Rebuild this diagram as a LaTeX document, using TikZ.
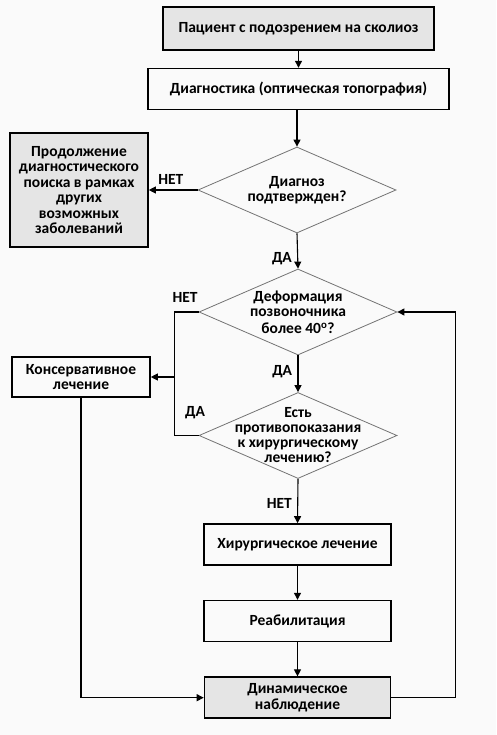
\documentclass[tikz,border=0pt]{standalone}
\usepackage{fontspec}
\setmainfont{Carlito}
\usepackage{tikz}
\usetikzlibrary{arrows.meta, positioning, calc, shapes.geometric}

\begin{document}
\begin{tikzpicture}[
  x=1pt, y=-1pt,
  node distance=17pt and 50pt,
  box/.style={draw, line width=1.6pt, minimum height=41pt, align=center, font=\bfseries\fontsize{15.5}{15.5}\selectfont, inner sep=2pt},
  shaded/.style={box, fill=black!10},
  decision/.style={diamond, draw=black!55, line width=0.8pt, inner sep=0pt, minimum width=198pt, minimum height=86pt},
  qtext/.style={align=center, font=\bfseries\fontsize{15.5}{15}\selectfont},
  lbl/.style={font=\bfseries\fontsize{15.5}{15}\selectfont},
  arr/.style={-{Triangle[length=7pt, width=7pt]}, line width=1.1pt}
]
\useasboundingbox[fill=black!2] (0,0) rectangle (496,735);

% main column
\node[shaded, minimum width=271pt, minimum height=43pt] (patient) at (298.5,28.5) {Пациент с подозрением на сколиоз};
\node[box, minimum width=301pt, below=17pt of patient] (diag) {Диагностика (оптическая топография)};
\node[decision, label={[qtext]center:Диагноз\\подтвержден?}] (confirm) at (297,190) {};
\node[decision, label={[qtext]center:Деформация\\позвоночника\\[2pt]более 40\textsuperscript{o}?}] (deform) at (298,312) {};
\node[decision, label={[qtext]center:Есть\\противопоказания\\к хирургическому\\лечению?}] (contra) at (298,435.5) {};
\node[box, minimum width=187pt] (surgery) at (297.5,544.5) {Хирургическое лечение};
\node[box, minimum width=187pt, below=34pt of surgery] (rehab) {Реабилитация};
\node[shaded, minimum width=186pt, below=34pt of rehab] (follow) {Динамическое\\наблюдение};

% side boxes
\node[shaded, minimum width=138pt, minimum height=114pt] (search) at (79,190) {Продолжение\\диагностического\\поиска в рамках\\других\\возможных\\заболеваний};
\node[box, minimum width=138pt, minimum height=40pt] (conserv) at (81,377) {Консервативное\\лечение};
\coordinate (join) at ($(conserv.east)+(24,0)$);

% connectors
\draw[arr] (patient) -- (diag);
\draw[arr] (diag.south -| confirm.north) -- (confirm.north);
\draw[arr] (confirm.west) -- (search.east)
  node[lbl, pos=0.55, above=2pt]{НЕТ};
\draw[arr] (confirm.south) -- (deform.north)
  node[lbl, pos=0.72, left=2pt]{ДА};
\draw[arr] (deform.south) -- (contra.north)
  node[lbl, pos=0.45, left=2pt]{ДА};
\draw[arr] (contra.south) -- (surgery.north)
  node[lbl, pos=0.55, left=2pt]{НЕТ};
\draw[arr] (surgery) -- (rehab);
\draw[arr] (rehab) -- (follow);
\draw[line width=1.1pt] (deform.west) -| (join);
\draw[line width=1.1pt] (contra.west) -| (join);
\draw[arr] (join) -- (conserv.east);
\node[lbl] at (185,297) {НЕТ};
\node[lbl] at (195,413) {ДА};
\draw[arr] (conserv.south) |- (follow.west);
\draw[arr] (follow.east) -- ++(64,0) |- (deform.east);
\end{tikzpicture}
\end{document}
